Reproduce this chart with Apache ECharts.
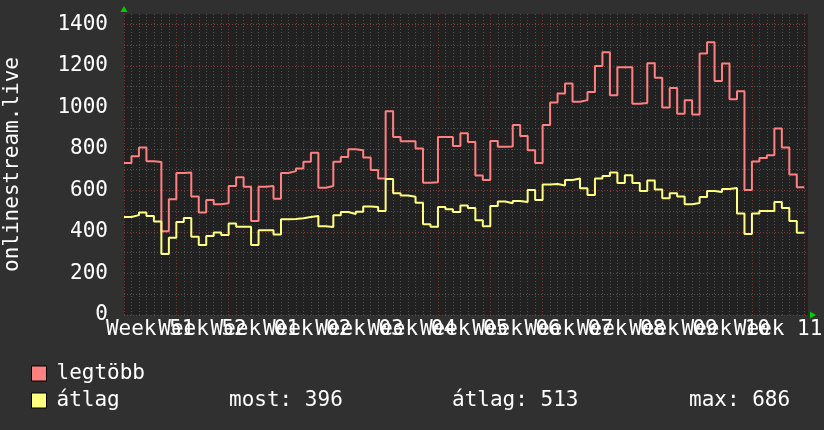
<!DOCTYPE html>
<html><head><meta charset="utf-8">
<script src="https://cdn.jsdelivr.net/npm/echarts@6/dist/echarts.min.js"></script>
<style>html,body{margin:0;padding:0;background:#303030;}#c{width:824px;height:430px;}</style>
</head><body><div id="c"></div>
<script>
// tick labels (one per week, centred in each week)
const weekLabels = ['Week 51','Week 52','Week 01','Week 02','Week 03','Week 04','Week 05','Week 06','Week 07','Week 08','Week 09','Week 10','Week 11'];
// first day index of the data (days relative to the second week grid line)
const firstDay = -7;
// daily maximum ("legtöbb")
const maxVals = [732,765,807,741,737,404,558,684,687,571,494,554,533,538,621,664,618,453,618,621,
  560,684,693,706,738,782,613,621,738,761,799,794,759,698,658,982,857,837,837,802,
  637,640,857,857,814,876,833,672,650,838,810,812,915,862,794,732,915,1024,1067,1115,
  1027,1035,1074,1199,1266,1059,1194,1194,1018,1021,1213,1143,999,1094,969,1035,966,1260,1314,1127,
  1212,1039,1078,602,740,756,770,899,807,677,616];
// daily average ("átlag")
const avgVals = [472,481,494,477,451,294,372,448,467,377,337,380,398,385,441,425,425,337,408,408,
  388,461,462,466,472,477,428,424,480,496,487,497,523,520,501,655,586,576,570,541,
  437,425,520,510,496,528,515,457,427,525,547,538,549,544,602,554,629,631,624,650,
  658,611,578,658,669,686,636,673,636,597,648,605,563,586,571,534,539,568,597,592,
  607,612,489,390,489,501,501,544,515,453,396];

const FONT = 'DejaVu Sans Mono';
const WHITE = '#ffffff';
const MINOR = '#505050';
const MAJOR = '#7a3a3a';
const GREEN = '#00cc00';
const X_MIN = -7, X_MAX = 84.5;

function toStep(vals) {
  const d = vals.map((v, i) => [firstDay + i, v]);
  d.push([firstDay + vals.length, vals[vals.length - 1]]);
  return d;
}
// half-day category slots used only to place the week labels in the middle of each week
const slots = [];
for (let i = 0; i <= (X_MAX - X_MIN) * 2; i++) slots.push('');
weekLabels.forEach((w, k) => { slots[7 + 14 * k] = w; });

const lastAvg = avgVals[avgVals.length - 1];
const meanAvg = Math.round(avgVals.reduce((a, b) => a + b, 0) / avgVals.length);
const maxAvg = Math.max(...avgVals);

const chart = echarts.init(document.getElementById('c'), null, {renderer: 'canvas'});
const txt = {color: WHITE, fontFamily: FONT, fontSize: 21, fontWeight: 'normal'};
chart.setOption({
  backgroundColor: '#303030',
  animation: false,
  grid: {left: 124, right: 16, top: 14, bottom: 115, containLabel: false, outerBoundsMode: 'none',
    show: true, backgroundColor: '#212121', borderWidth: 0},
  xAxis: [
    { // minor daily grid
      type: 'value', min: X_MIN, max: X_MAX, interval: 1, position: 'top',
      axisLine: {show: false}, axisTick: {show: false}, axisLabel: {show: false},
      splitLine: {show: true, showMaxLine: false, lineStyle: {color: MINOR, width: 1, type: [1, 2]}}
    },
    { // major weekly grid
      type: 'value', min: X_MIN, max: X_MAX, interval: 7, position: 'bottom',
      axisLine: {show: true, onZero: false, symbol: ['none', 'triangle'], symbolSize: [7, 6], symbolOffset: [0, 5],
        lineStyle: {color: GREEN, width: 0}},
      axisTick: {show: false},
      axisLabel: {show: false},
      splitLine: {show: true, showMaxLine: false, lineStyle: {color: MAJOR, width: 1, type: [1, 2]}}
    },
    { // week labels
      type: 'category', data: slots, boundaryGap: false, position: 'bottom',
      axisLine: {show: false}, axisTick: {show: false}, splitLine: {show: false},
      axisLabel: Object.assign({interval: 0, margin: 4, hideOverlap: false}, txt)
    }
  ],
  yAxis: [
    { // minor grid every 100
      type: 'value', min: 0, max: 1450, interval: 100, position: 'right',
      axisLine: {show: false}, axisTick: {show: false}, axisLabel: {show: false},
      splitLine: {show: true, showMaxLine: false, lineStyle: {color: MINOR, width: 1, type: [1, 2]}}
    },
    { // major grid every 200 + labels
      type: 'value', min: 0, max: 1450, interval: 200, position: 'left',
      name: 'onlinestream.live', nameLocation: 'middle', nameRotate: 90, nameGap: 101,
      nameTextStyle: txt,
      axisLine: {show: true, onZero: false, symbol: ['none', 'triangle'], symbolSize: [7, 6], symbolOffset: [0, 5],
        lineStyle: {color: GREEN, width: 0}},
      axisTick: {show: false},
      axisLabel: Object.assign({margin: 16, showMaxLabel: false, formatter: v => String(v)}, txt),
      splitLine: {show: true, showMaxLine: false, lineStyle: {color: MAJOR, width: 1, type: [1, 2]}}
    }
  ],
  legend: {
    orient: 'vertical', left: 31, top: 363, itemWidth: 15, itemHeight: 15, itemGap: 6,
    icon: 'rect', selectedMode: false, padding: 0,
    itemStyle: {borderColor: '#000', borderWidth: 1},
    textStyle: Object.assign({padding: [0, 0, 0, 5]}, txt),
    data: ['legtöbb', 'átlag']
  },
  title: [
    {text: 'most: ' + lastAvg, left: 229, top: 390, padding: 0, textStyle: txt},
    {text: 'átlag: ' + meanAvg, left: 452, top: 390, padding: 0, textStyle: txt},
    {text: 'max: ' + maxAvg, left: 689, top: 390, padding: 0, textStyle: txt}
  ],
  series: [
    {name: 'legtöbb', type: 'line', xAxisIndex: 1, yAxisIndex: 1, step: 'end', data: toStep(maxVals),
      showSymbol: false, lineStyle: {color: '#ff8080', width: 2}, itemStyle: {color: '#ff8080'}},
    {name: 'átlag', type: 'line', xAxisIndex: 1, yAxisIndex: 1, step: 'end', data: toStep(avgVals),
      showSymbol: false, lineStyle: {color: '#ffff80', width: 2}, itemStyle: {color: '#ffff80'}}
  ]
});
</script>
</body></html>
